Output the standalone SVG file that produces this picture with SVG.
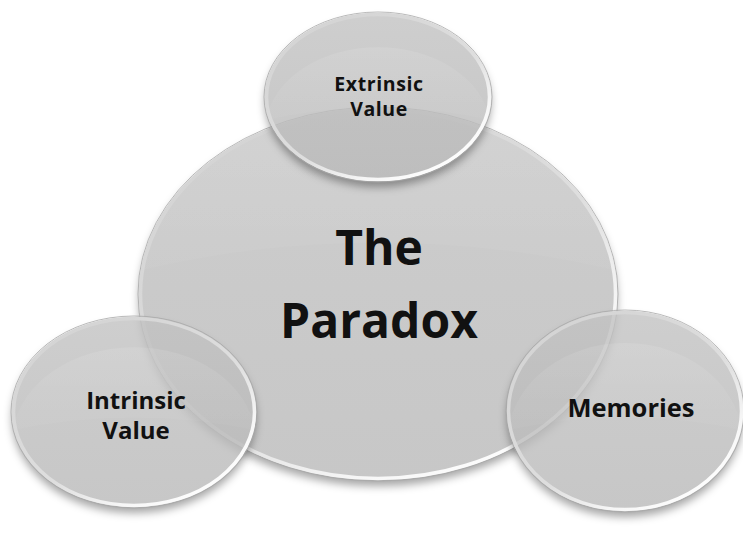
<svg xmlns="http://www.w3.org/2000/svg" width="743" height="534" viewBox="0 0 743 534">
  <defs>
    <linearGradient id="gFill" x1="0" y1="0" x2="0" y2="1">
      <stop offset="0" stop-color="#c2c2c2"/>
      <stop offset="0.45" stop-color="#bdbdbd"/>
      <stop offset="1" stop-color="#b9b9b9"/>
    </linearGradient>
    <linearGradient id="gRim" x1="0.15" y1="0.1" x2="0.85" y2="0.95">
      <stop offset="0" stop-color="#d4d4d4"/>
      <stop offset="0.55" stop-color="#dedede"/>
      <stop offset="0.8" stop-color="#f6f6f6"/>
      <stop offset="1" stop-color="#ffffff"/>
    </linearGradient>
    <linearGradient id="gGloss" x1="0" y1="0" x2="0" y2="1">
      <stop offset="0" stop-color="#ffffff" stop-opacity="0.1"/>
      <stop offset="1" stop-color="#ffffff" stop-opacity="0.03"/>
    </linearGradient>
    <filter id="shadow" x="-20%" y="-20%" width="140%" height="150%">
      <feGaussianBlur in="SourceAlpha" stdDeviation="4" result="b"/>
      <feOffset in="b" dx="0" dy="6" result="o"/>
      <feComposite in="o" in2="SourceAlpha" operator="out" result="sh"/>
      <feFlood flood-color="#000000" flood-opacity="0.35"/>
      <feComposite in2="sh" operator="in"/>
    </filter>
    <style>
      .sh { fill: #000; filter: url(#shadow); }
      .body { fill: url(#gFill); fill-opacity: 0.8; }
      .gloss { fill: url(#gGloss); }
      .edge { fill: none; stroke: #a9a9a9; stroke-width: 1; stroke-opacity: 0.8; }
      .rim { fill: none; stroke: url(#gRim); stroke-width: 3.5; }
      .lbl { font-family: "Open Sans", "Liberation Sans", sans-serif; font-weight: bold; fill: #111; text-anchor: middle; }
    </style>
  </defs>
  <rect width="743" height="534" fill="#ffffff"/>

  <g id="paradox">
    <ellipse class="sh" cx="378" cy="294" rx="239" ry="186"/>
    <ellipse class="body" cx="378" cy="294" rx="239" ry="186"/>
    <path class="gloss" d="M141,270 Q378,215 615,270 A239,186 0 0 0 141,270 Z"/>
    <ellipse class="edge" cx="378" cy="294" rx="240" ry="187"/>
    <ellipse class="rim" cx="378" cy="294" rx="237.5" ry="184.5"/>
    <text class="lbl" x="379" y="265" font-size="48">The</text>
    <text class="lbl" x="379" y="338" font-size="48">Paradox</text>
  </g>

  <g id="extrinsic">
    <ellipse class="sh" cx="378" cy="97" rx="113" ry="84"/>
    <ellipse class="body" cx="378" cy="97" rx="113" ry="84"/>
    <path class="gloss" d="M266,120 Q378,95 490,120 A113,84 0 0 0 266,120 Z"/>
    <ellipse class="edge" cx="378" cy="97" rx="114" ry="85"/>
    <ellipse class="rim" cx="378" cy="97" rx="111.5" ry="82.5"/>
    <text class="lbl" x="379" y="90.5" font-size="19.5" letter-spacing="0.6">Extrinsic</text>
    <text class="lbl" x="379" y="115.5" font-size="19.5" letter-spacing="0.6">Value</text>
  </g>

  <g id="intrinsic">
    <ellipse class="sh" cx="134" cy="412" rx="122" ry="95"/>
    <ellipse class="body" cx="134" cy="412" rx="122" ry="95"/>
    <path class="gloss" d="M13,430 Q134,405 255,430 A122,95 0 0 0 13,430 Z"/>
    <ellipse class="edge" cx="134" cy="412" rx="123" ry="96"/>
    <ellipse class="rim" cx="134" cy="412" rx="120.5" ry="93.5"/>
    <text class="lbl" x="136" y="409" font-size="24">Intrinsic</text>
    <text class="lbl" x="136" y="439" font-size="24">Value</text>
  </g>

  <g id="memories">
    <ellipse class="sh" cx="625" cy="411" rx="118" ry="100"/>
    <ellipse class="body" cx="625" cy="411" rx="118" ry="100"/>
    <path class="gloss" d="M508,430 Q625,405 742,430 A118,100 0 0 0 508,430 Z"/>
    <ellipse class="edge" cx="625" cy="411" rx="119" ry="101"/>
    <ellipse class="rim" cx="625" cy="411" rx="116.5" ry="98.5"/>
    <text class="lbl" x="631" y="417" font-size="25.5">Memories</text>
  </g>

  <g id="connectors"/>
</svg>
